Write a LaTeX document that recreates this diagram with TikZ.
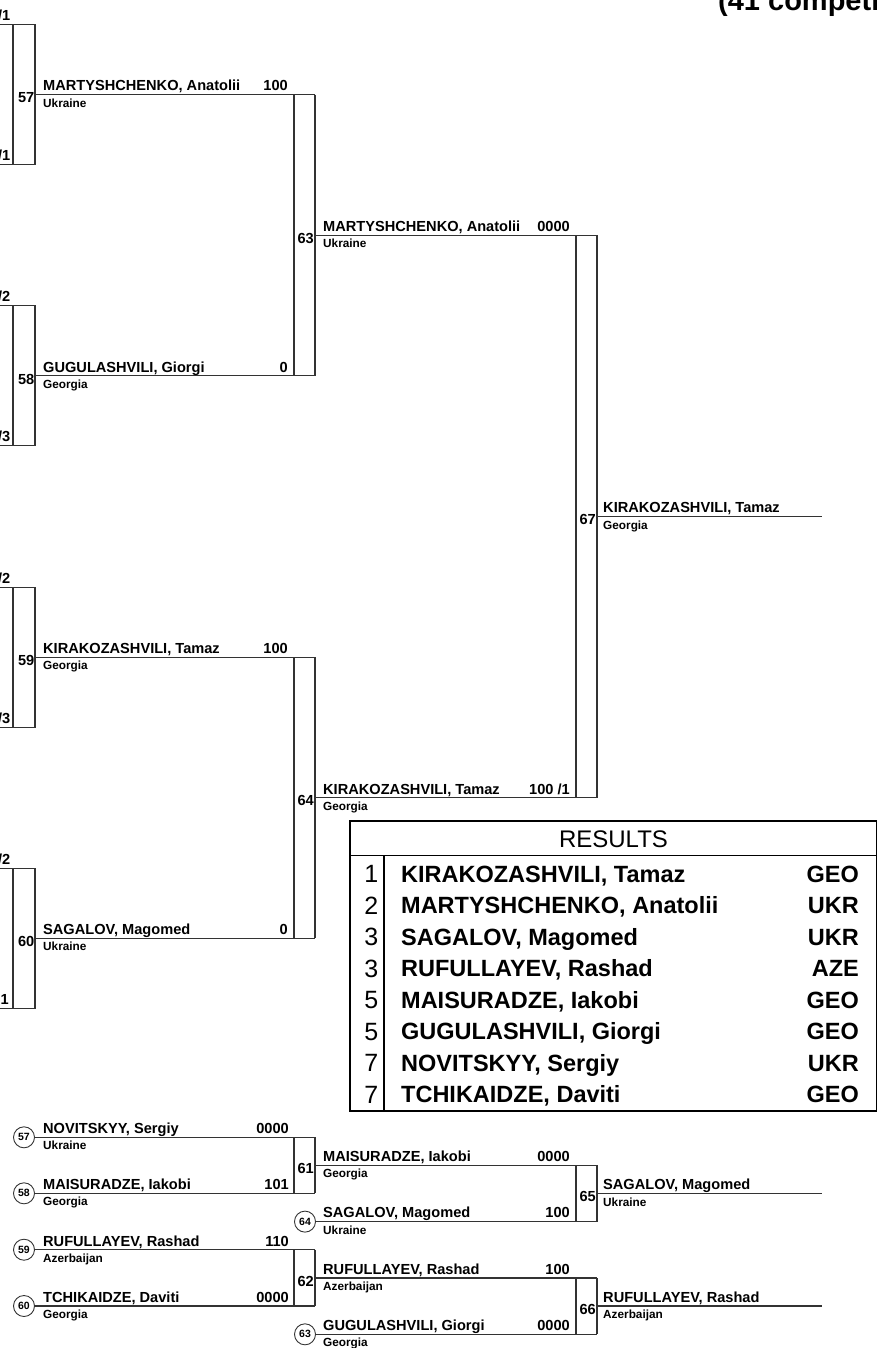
\documentclass[tikz,border=0pt]{standalone}
\usepackage{fontspec}
\setmainfont{Liberation Sans}
\begin{document}
\begin{tikzpicture}[x=1pt,y=-1pt,
  ln/.style={line width=1.1pt, draw=black!80},
  nm/.style={font=\bfseries\fontsize{14.6}{16}\selectfont, anchor=base west, inner sep=0pt},
  sc/.style={font=\bfseries\fontsize{14.6}{16}\selectfont, anchor=base east, inner sep=0pt},
  ct/.style={font=\bfseries\fontsize{11.8}{13}\selectfont, anchor=base west, inner sep=0pt},
  mlab/.style={font=\bfseries\fontsize{14.6}{16}\selectfont, anchor=base east, inner sep=0pt},
  circ/.style={draw=black!80, line width=0.9pt, circle, minimum size=21pt, inner sep=0pt, font=\bfseries\fontsize{10.5}{12}\selectfont},
  rk/.style={font=\fontsize{25}{26}\selectfont, anchor=base east, inner sep=0pt},
  rn/.style={font=\bfseries\fontsize{23.5}{25}\selectfont, anchor=base west, inner sep=0pt},
  rc/.style={font=\bfseries\fontsize{23.5}{25}\selectfont, anchor=base east, inner sep=0pt}]
\useasboundingbox (0,0) rectangle (877,1348);
\clip (0,0) rectangle (877,1348);

% title (cut off)
\node[anchor=base west, inner sep=0pt, font=\bfseries\fontsize{29}{30}\selectfont] (title) at (718,10.5) {(41 competitors)};

% ---------- first column boxes ----------
% box 57
\coordinate (a57) at (0,24.7); \coordinate (b57) at (0,164.7);
\draw[ln] (a57) -- (35,24.7) -- (35,164.7) -- (b57);
\draw[ln] (13,24.7) -- (13,164.7);
\node[sc] (sa57) at (10.5,20.7) {/1};
\node[sc] (sb57) at (10.5,160.7) {/1};
\node[mlab] (m57) at (34.5,102.9) {57};
% box 58
\coordinate (a58) at (0,305.9); \coordinate (b58) at (0,445.9);
\draw[ln] (a58) -- (35,305.9) -- (35,445.9) -- (b58);
\draw[ln] (13,305.9) -- (13,445.9);
\node[sc] (sa58) at (10.5,301.9) {/2};
\node[sc] (sb58) at (10.5,441.9) {/3};
\node[mlab] (m58) at (34.5,384.1) {58};
% box 59
\coordinate (a59) at (0,587.1); \coordinate (b59) at (0,727.1);
\draw[ln] (a59) -- (35,587.1) -- (35,727.1) -- (b59);
\draw[ln] (13,587.1) -- (13,727.1);
\node[sc] (sa59) at (10.5,583.1) {/2};
\node[sc] (sb59) at (10.5,723.1) {/3};
\node[mlab] (m59) at (34.5,665.3) {59};
% box 60
\coordinate (a60) at (0,868.3); \coordinate (b60) at (0,1008.3);
\draw[ln] (a60) -- (35,868.3) -- (35,1008.3) -- (b60);
\draw[ln] (13,868.3) -- (13,1008.3);
\node[sc] (sa60) at (10.5,864.3) {/2};
\node[sc] (sb60) at (9,1004.3) {1};
\node[mlab] (m60) at (34.5,946.5) {60};

% ---------- competitor lines col 1 -> col 2 ----------
\coordinate (w57) at (35,94.7);  \coordinate (e57) at (315,94.7);
\coordinate (w58) at (35,375.9); \coordinate (e58) at (315,375.9);
\coordinate (w59) at (35,657.1); \coordinate (e59) at (315,657.1);
\coordinate (w60) at (35,938.3); \coordinate (e60) at (315,938.3);
\draw[ln] (w57) -- (e57);
\draw[ln] (w58) -- (e58);
\draw[ln] (w59) -- (e59);
\draw[ln] (w60) -- (e60);
\node[nm] (n57) at (43,91) {MARTYSHCHENKO, Anatolii};
\node[sc] (s57) at (288,91) {100};
\node[ct] (c57) at (43,107.3) {Ukraine};
\node[nm] (n58) at (43,372.2) {GUGULASHVILI, Giorgi};
\node[sc] (s58) at (288,372.2) {0};
\node[ct] (c58) at (43,388.5) {Georgia};
\node[nm] (n59) at (43,653.4) {KIRAKOZASHVILI, Tamaz};
\node[sc] (s59) at (288,653.4) {100};
\node[ct] (c59) at (43,669.7) {Georgia};
\node[nm] (n60) at (43,934.6) {SAGALOV, Magomed};
\node[sc] (s60) at (288,934.6) {0};
\node[ct] (c60) at (43,950.9) {Ukraine};

% ---------- column 2 boxes ----------
\draw[ln] (294,94.7) -- (294,375.9);
\draw[ln] (e57) -- (e58);
\node[mlab] (m63) at (314,243.5) {63};
\draw[ln] (294,657.1) -- (294,938.3);
\draw[ln] (e59) -- (e60);
\node[mlab] (m64) at (314,805.9) {64};

\coordinate (w63) at (315,235.3); \coordinate (e63) at (597,235.3);
\coordinate (w64) at (315,797.7); \coordinate (e64) at (597,797.7);
\draw[ln] (w63) -- (e63);
\draw[ln] (w64) -- (e64);
\node[nm] (n63) at (323,231.6) {MARTYSHCHENKO, Anatolii};
\node[sc] (s63) at (570,231.6) {0000};
\node[ct] (c63) at (323,247.9) {Ukraine};
\node[nm] (n64) at (323,794) {KIRAKOZASHVILI, Tamaz};
\node[sc] (s64) at (570,794) {100 /1};
\node[ct] (c64) at (323,810.3) {Georgia};

% ---------- column 3 box (final) ----------
\draw[ln] (576,235.3) -- (576,797.7);
\draw[ln] (e63) -- (e64);
\node[mlab] (m67) at (596,524.7) {67};
\coordinate (w67) at (597,516.5); \coordinate (e67) at (822,516.5);
\draw[ln] (w67) -- (e67);
\node[nm] (n67) at (603,512.8) {KIRAKOZASHVILI, Tamaz};
\node[ct] (c67) at (603,529.1) {Georgia};

% ---------- results table ----------
\coordinate (rtl) at (350,821); \coordinate (rbr) at (877,1111);
\draw[line width=1.2pt] (rtl) rectangle (rbr);
\coordinate (hl) at (350,855.5); \coordinate (hr) at (877,855.5);
\draw[line width=1.2pt] (hl) -- (hr);
\coordinate (st) at (384,855.5); \coordinate (sb) at (384,1111);
\draw[line width=1.2pt] (st) -- (sb);
\node[anchor=base, inner sep=0pt, font=\fontsize{24}{26}\selectfont] (rhead) at (613.5,847) {RESULTS};
\foreach \k/\r/\n/\c in {0/1/{KIRAKOZASHVILI, Tamaz}/GEO,
                         1/2/{MARTYSHCHENKO, Anatolii}/UKR,
                         2/3/{SAGALOV, Magomed}/UKR,
                         3/3/{RUFULLAYEV, Rashad}/AZE,
                         4/5/{MAISURADZE, Iakobi}/GEO,
                         5/5/{GUGULASHVILI, Giorgi}/GEO,
                         6/7/{NOVITSKYY, Sergiy}/UKR,
                         7/7/{TCHIKAIDZE, Daviti}/GEO}{
  \node[rk] (rk\k) at (378.5,{882.8+31.5*\k}) {\r};
  \node[rn] (rn\k) at (401,{882.3+31.5*\k}) {\n};
  \node[rc] (rc\k) at (859,{882.3+31.5*\k}) {\c};
}

% ---------- repechage ----------
\node[circ] (q57) at (24,1137.3) {57};
\node[circ] (q58) at (24,1193.3) {58};
\node[circ] (q59) at (24,1249.7) {59};
\node[circ] (q60) at (24,1306) {60};
\coordinate (x57) at (315,1137.3);
\coordinate (x58) at (315,1193.3);
\coordinate (x59) at (315,1249.7);
\coordinate (x60) at (315,1306);
\draw[ln] (q57.east) -- (x57);
\draw[ln] (q58.east) -- (x58);
\draw[ln] (q59.east) -- (x59);
\draw[ln] (q60.east) -- (x60);
\node[nm] (rn57) at (43,1133.6) {NOVITSKYY, Sergiy};
\node[sc] (rs57) at (289,1133.6) {0000};
\node[ct] (rc57) at (43,1149.9) {Ukraine};
\node[nm] (rn58) at (43,1189.6) {MAISURADZE, Iakobi};
\node[sc] (rs58) at (289,1189.6) {101};
\node[ct] (rc58) at (43,1205.9) {Georgia};
\node[nm] (rn59) at (43,1246) {RUFULLAYEV, Rashad};
\node[sc] (rs59) at (289,1246) {110};
\node[ct] (rc59) at (43,1262.3) {Azerbaijan};
\node[nm] (rn60) at (43,1302.3) {TCHIKAIDZE, Daviti};
\node[sc] (rs60) at (289,1302.3) {0000};
\node[ct] (rc60) at (43,1318.6) {Georgia};

% boxes 61, 62
\draw[ln] (294,1137.3) -- (294,1193.3);
\draw[ln] (x57) -- (x58);
\node[mlab] (m61) at (314,1173.5) {61};
\draw[ln] (294,1249.7) -- (294,1306);
\draw[ln] (x59) -- (x60);
\node[mlab] (m62) at (314,1286.2) {62};

% second column lines
\coordinate (v61) at (315,1165.3); \coordinate (y61) at (597,1165.3);
\coordinate (v62) at (315,1278); \coordinate (y62) at (597,1278);
\draw[ln] (v61) -- (y61);
\draw[ln] (v62) -- (y62);
\node[circ] (q64) at (305,1221.6) {64};
\node[circ] (q63) at (305,1334.3) {63};
\coordinate (y64) at (597,1221.6);
\coordinate (y63) at (597,1334.3);
\draw[ln] (q64.east) -- (y64);
\draw[ln] (q63.east) -- (y63);
\node[nm] (rn61) at (323,1161.6) {MAISURADZE, Iakobi};
\node[sc] (rs61) at (570,1161.6) {0000};
\node[ct] (rc61) at (323,1177.9) {Georgia};
\node[nm] (rn64) at (323,1217.9) {SAGALOV, Magomed};
\node[sc] (rs64) at (570,1217.9) {100};
\node[ct] (rc64) at (323,1234.2) {Ukraine};
\node[nm] (rn62) at (323,1274.3) {RUFULLAYEV, Rashad};
\node[sc] (rs62) at (570,1274.3) {100};
\node[ct] (rc62) at (323,1290.6) {Azerbaijan};
\node[nm] (rn63) at (323,1330.6) {GUGULASHVILI, Giorgi};
\node[sc] (rs63) at (570,1330.6) {0000};
\node[ct] (rc63) at (323,1346.9) {Georgia};

% boxes 65, 66
\draw[ln] (576,1165.3) -- (576,1221.6);
\draw[ln] (y61) -- (y64);
\node[mlab] (m65) at (596,1201.6) {65};
\draw[ln] (576,1278) -- (576,1334.3);
\draw[ln] (y62) -- (y63);
\node[mlab] (m66) at (596,1314.2) {66};

\coordinate (v65) at (597,1193.5); \coordinate (z65) at (822,1193.5);
\coordinate (v66) at (597,1306); \coordinate (z66) at (822,1306);
\draw[ln] (v65) -- (z65);
\draw[ln] (v66) -- (z66);
\node[nm] (rn65) at (603,1189.8) {SAGALOV, Magomed};
\node[ct] (rc65) at (603,1206.1) {Ukraine};
\node[nm] (rn66) at (603,1302.3) {RUFULLAYEV, Rashad};
\node[ct] (rc66) at (603,1318.6) {Azerbaijan};
\end{tikzpicture}
\end{document}
